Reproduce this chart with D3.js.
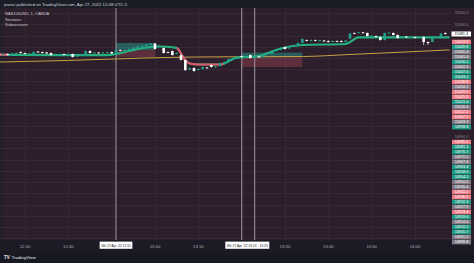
<!DOCTYPE html>
<html lang="en">
<head>
<meta charset="utf-8">
<title>NAS100USD, 1, OANDA</title>
<script src="https://d3js.org/d3.v7.min.js"></script>
<style>
  html, body { margin: 0; padding: 0; background: #161922; }
  svg { display: block; font-family: "Liberation Sans", "DejaVu Sans", sans-serif; }
</style>
</head>
<body>
<svg id="chart" width="474" height="263"></svg>
<script>
// one candle per minute, starting at 12:24
var startTime = "12:24";
var opens = [15063.6,15062.7,15063.6,15062.7,15063.6,15065.4,15064.5,15063.6,15062.7,15065.8,
  15065.4,15065.0,15064.5,15062.7,15063.2,15063.6,15062.7,15063.6,15061.4,15062.3,
  15061.8,15066.3,15064.1,15065.0,15064.1,15064.5,15065.4,15063.6,15067.2,15066.3,
  15067.2,15067.6,15068.9,15069.8,15070.7,15071.6,15072.9,15069.8,15068.9,15065.4,
  15066.3,15063.6,15062.7,15058.3,15049.9,15051.2,15049.4,15050.3,15051.7,15053.9,
  15051.7,15053.0,15054.7,15056.5,15058.3,15059.2,15061.8,15060.5,15062.7,15060.1,
  15061.4,15061.0,15063.6,15063.6,15066.3,15067.2,15069.8,15068.5,15069.8,15070.7,
  15073.4,15076.0,15075.2,15076.0,15075.2,15075.6,15075.2,15074.3,15075.2,15075.2,
  15074.3,15077.3,15082.3,15082.3,15082.9,15082.3,15079.2,15079.6,15078.7,15076.0,
  15081.8,15082.3,15080.5,15078.3,15079.2,15078.3,15078.7,15077.8,15078.7,15074.3,
  15074.3,15077.8,15078.7,15082.3];
var closes = [15062.7,15063.2,15062.9,15064.1,15064.5,15064.5,15063.8,15064.1,15065.4,15065.1,
  15064.5,15064.1,15062.7,15063.6,15063.6,15063.2,15063.6,15061.0,15062.7,15063.2,
  15066.3,15064.5,15065.0,15064.5,15065.0,15065.4,15064.1,15067.2,15066.5,15067.2,
  15068.1,15069.4,15070.3,15071.2,15072.0,15072.9,15068.1,15071.2,15064.5,15064.7,
  15062.7,15064.5,15058.3,15049.4,15051.2,15048.5,15050.3,15052.1,15051.2,15052.1,
  15052.5,15055.6,15056.5,15059.2,15060.1,15061.0,15061.0,15061.4,15060.1,15061.0,
  15060.7,15063.6,15064.5,15065.4,15067.2,15068.1,15068.1,15069.4,15071.6,15073.4,
  15076.9,15075.3,15076.0,15075.3,15075.9,15075.0,15074.3,15075.2,15074.5,15074.3,
  15075.6,15081.8,15081.6,15082.9,15082.3,15079.6,15080.0,15078.7,15076.0,15082.3,
  15082.7,15080.5,15077.8,15079.2,15078.5,15078.7,15078.0,15078.7,15074.3,15073.4,
  15077.8,15078.7,15081.8,15081.4];
var highs = [15064.0,15063.6,15064.1,15064.6,15065.0,15065.9,15064.9,15064.5,15065.9,15066.3,
  15065.8,15065.4,15065.0,15064.1,15064.0,15064.0,15064.1,15064.0,15063.2,15063.6,
  15066.8,15066.8,15065.4,15065.4,15065.4,15065.9,15065.8,15067.7,15067.6,15067.6,
  15068.5,15069.8,15070.7,15071.6,15072.5,15073.4,15073.4,15071.6,15069.4,15065.8,
  15066.8,15065.0,15063.2,15058.7,15051.7,15051.7,15050.8,15052.5,15052.1,15054.3,
  15053.0,15056.1,15057.0,15059.6,15060.5,15061.4,15062.3,15061.8,15063.2,15061.4,
  15061.8,15064.1,15065.0,15065.9,15067.6,15068.5,15070.3,15069.8,15072.0,15073.8,
  15077.4,15076.5,15076.5,15076.4,15076.3,15076.0,15075.6,15075.6,15075.6,15075.6,
  15076.0,15082.3,15082.7,15083.3,15083.3,15082.7,15080.5,15080.0,15079.2,15082.7,
  15083.1,15082.7,15080.9,15079.6,15079.6,15079.1,15079.1,15079.2,15079.2,15074.7,
  15078.3,15079.2,15082.3,15082.7];
var lows = [15062.2,15062.3,15062.5,15062.2,15063.2,15064.1,15063.4,15063.2,15062.2,15064.8,
  15064.1,15063.7,15062.2,15062.3,15062.8,15062.8,15062.3,15060.5,15061.0,15061.9,
  15061.4,15064.1,15063.7,15064.1,15063.7,15064.1,15063.7,15063.2,15066.1,15065.9,
  15066.8,15067.2,15068.5,15069.4,15070.3,15071.2,15067.6,15069.4,15064.1,15064.3,
  15062.3,15063.2,15057.8,15048.5,15049.4,15048.1,15049.0,15049.9,15050.8,15051.7,
  15051.2,15052.5,15054.3,15056.1,15057.9,15058.7,15060.5,15060.1,15059.6,15059.6,
  15060.3,15060.5,15063.2,15063.2,15065.9,15066.8,15067.6,15068.1,15069.4,15070.3,
  15072.9,15074.9,15074.8,15074.9,15074.8,15074.6,15073.9,15073.9,15074.1,15073.9,
  15073.9,15076.9,15081.2,15081.9,15081.9,15079.2,15078.7,15078.3,15075.6,15075.6,
  15081.4,15080.0,15077.4,15077.8,15078.1,15077.8,15077.6,15077.4,15071.6,15071.6,
  15073.9,15077.4,15078.3,15080.9];

// trend ribbon
var ribbonTimes = ["12:24","12:26","12:38","12:49","12:51","12:54","12:58","13:01","13:04","13:05","13:07","13:08","13:10","13:15","13:19","13:24","13:26","13:29","13:34","13:44","13:47","14:08"];
var ribbonValues = [15063.2,15062.8,15062.7,15062.7,15063.6,15066.3,15069.4,15070.3,15069.6,15068.9,15058.0,15055.2,15054.3,15054.3,15060.5,15061.8,15064.5,15068.5,15071.6,15072.5,15078.3,15078.3];
var ribbonBearStart = ["12:24","13:05"];
var ribbonBearEnd = ["12:26","13:16"];

// slow moving average
var maTimes = ["12:24","12:40","12:58","13:10","13:34","13:45","14:00","14:08"];
var maValues = [15056.5,15057.9,15060.1,15061.0,15061.4,15063.2,15065.8,15067.3];

// session boxes
var boxStart = ["12:51","13:20"];
var boxEnd = ["13:00","13:34"];
var boxHigh = [15073.4,15064.8];
var boxMid = [15067.2,15060.7];
var boxLow = [15061.0,15052.1];

var markerTimes = ["12:51","13:20","13:23"];
var markerDate = "We 27 Apr '22";

// stacked labels on the price scale
var sideLabelValues = [15074.3,15069.8,15065.4,15061.0,15056.5,15052.1,15047.6,15043.2,15038.8,15034.3,
  15029.9,15025.5,15021.0,15016.6,15012.2,15007.7,15003.3,14998.8,
  14985.5,14981.1,14976.7,14972.2,14967.8,14963.4,14958.9,14954.5,14950.0,14945.6,
  14941.2,14936.7,14932.3,14927.9,14923.4,14919.0,14914.6,14910.1,14905.7,14901.2,14896.8];
var sideLabelKinds = ["r","g","n","n","g","n","g","g","r","n",
  "r","r","g","n","r","r","n","g",
  "r","g","g","n","n","g","g","g","n","n",
  "r","r","g","n","r","g","n","g","g","n","n"];

var W = 474, H = 263;
var plotL = 0, plotR = 450, plotT = 8, plotB = 240;
var bg = "#2c1f2b";
var bull = "#22a08e", bear = "#ffffff";
var ribbonGreen = "#27b07f", ribbonRed = "#e0566a";
var kindColor = { r: "#ef7d86", g: "#1f9c86", n: "#7f7b86" };

var parse = d3.timeParse("%H:%M");
var t0 = parse(startTime);
var fmt = d3.format(".1f");

var x = d3.scaleTime().domain([parse("12:30"), parse("14:00")]).range([25, 415]);
var y = d3.scaleLinear().domain([15100, 14990]).range([13, 137]);

var svg = d3.select("#chart");
var defs = svg.append("defs");
defs.append("clipPath").attr("id", "plot").append("rect")
  .attr("x", plotL).attr("y", plotT).attr("width", plotR - plotL).attr("height", plotB - plotT);

// backgrounds
svg.append("rect").attr("width", W).attr("height", H).attr("fill", "#161922");
svg.append("rect").attr("x", 0).attr("y", plotT).attr("width", W).attr("height", plotB - plotT).attr("fill", bg);
svg.append("rect").attr("x", 0).attr("y", plotT).attr("width", 3).attr("height", plotB - plotT).attr("fill", "#22202d");
svg.append("rect").attr("x", 0).attr("y", 0).attr("width", W).attr("height", plotT).attr("fill", "#1a1d26");
svg.append("rect").attr("x", 0).attr("y", plotB).attr("width", W).attr("height", 12).attr("fill", "#1c1a24");

var plot = svg.append("g").attr("clip-path", "url(#plot)");

// grid
var timeTicks = d3.timeMinute.every(10).range(parse("12:20"), parse("14:10"));
var priceTicks = d3.range(14890, 15110, 10);
plot.selectAll(".vg").data(timeTicks).enter().append("line")
  .attr("x1", d => x(d) + 0.5).attr("x2", d => x(d) + 0.5)
  .attr("y1", plotT).attr("y2", plotB)
  .attr("stroke", "#372834").attr("stroke-width", 1);
plot.selectAll(".hg").data(priceTicks).enter().append("line")
  .attr("x1", plotL).attr("x2", plotR)
  .attr("y1", d => Math.round(y(d)) + 0.5).attr("y2", d => Math.round(y(d)) + 0.5)
  .attr("stroke", "#372834").attr("stroke-width", 1);

// session boxes
boxStart.forEach(function(s, i) {
  var x0 = x(parse(s)), x1 = x(parse(boxEnd[i]));
  plot.append("rect").attr("x", x0).attr("width", x1 - x0)
    .attr("y", y(boxHigh[i])).attr("height", y(boxMid[i]) - y(boxHigh[i]))
    .attr("fill", "#26a69a").attr("fill-opacity", 0.45);
  plot.append("rect").attr("x", x0).attr("width", x1 - x0)
    .attr("y", y(boxMid[i])).attr("height", y(boxLow[i]) - y(boxMid[i]))
    .attr("fill", "#ef5f6e").attr("fill-opacity", 0.25);
});

// vertical markers
plot.selectAll(".mk").data(markerTimes).enter().append("line")
  .attr("x1", d => x(parse(d))).attr("x2", d => x(parse(d)))
  .attr("y1", plotT).attr("y2", plotB)
  .attr("stroke", "#8f8592").attr("stroke-width", 1.2);

// slow MA
var ma = maTimes.map((t, i) => ({ t: parse(t), v: maValues[i] }));
plot.append("path").datum(ma)
  .attr("d", d3.line().x(d => x(d.t)).y(d => y(d.v)).curve(d3.curveMonotoneX))
  .attr("fill", "none").attr("stroke", "#c9a246").attr("stroke-width", 1);

// ribbon
var ribbon = ribbonTimes.map((t, i) => ({ t: parse(t), v: ribbonValues[i] }));
var ribbonLine = d3.line().x(d => x(d.t)).y(d => y(d.v)).curve(d3.curveMonotoneX);
plot.append("path").datum(ribbon).attr("d", ribbonLine)
  .attr("fill", "none").attr("stroke", ribbonGreen).attr("stroke-width", 2.2);
ribbonBearStart.forEach(function(s, i) {
  var a = x(parse(s)), b = x(parse(ribbonBearEnd[i]));
  defs.append("clipPath").attr("id", "bear" + i).append("rect")
    .attr("x", a).attr("width", b - a).attr("y", 0).attr("height", H);
  plot.append("g").attr("clip-path", "url(#bear" + i + ")")
    .append("path").datum(ribbon).attr("d", ribbonLine)
    .attr("fill", "none").attr("stroke", ribbonRed).attr("stroke-width", 2.2);
});

// candles
var candles = opens.map((o, i) => ({
  t: d3.timeMinute.offset(t0, i), o: o, c: closes[i], h: highs[i], l: lows[i]
}));
var cw = 2.6;
var cg = plot.selectAll(".candle").data(candles).enter().append("g");
cg.append("line")
  .attr("x1", d => x(d.t)).attr("x2", d => x(d.t))
  .attr("y1", d => y(d.h)).attr("y2", d => y(d.l))
  .attr("stroke", d => d.c >= d.o ? bull : bear).attr("stroke-width", 0.7);
cg.append("rect")
  .attr("x", d => x(d.t) - cw / 2).attr("width", cw)
  .attr("y", d => y(Math.max(d.o, d.c)))
  .attr("height", d => Math.max(0.9, Math.abs(y(d.o) - y(d.c))))
  .attr("fill", d => d.c >= d.o ? bull : bear);

// legend
var legend = svg.append("g").attr("font-size", 4).attr("fill", "#c9c7cf");
legend.append("text").attr("x", 5).attr("y", 15).text("NAS100USD, 1, OANDA");
legend.append("text").attr("x", 5).attr("y", 20.5).text("Sessions");
legend.append("text").attr("x", 5).attr("y", 26).text("Subsessions");

// header and footer
svg.append("text").attr("x", 4).attr("y", 5.5).attr("font-size", 4.3).attr("fill", "#d1d4dc")
  .text("jeanvi published on TradingView.com, Apr 27, 2022 12:48 UTC-5");
svg.append("text").attr("x", 4).attr("y", 259).attr("font-size", 4.6).attr("font-weight", "bold").attr("fill", "#e8e8ec")
  .text("TV");
svg.append("text").attr("x", 11.5).attr("y", 259).attr("font-size", 4.4).attr("fill", "#e8e8ec")
  .text("TradingView");

// price axis: plain ticks only where no stacked label covers them
var last = closes[closes.length - 1];
var covered = sideLabelValues.concat([last]);
var pa = svg.append("g").attr("font-size", 3.8).attr("text-anchor", "middle");
pa.selectAll(".pt")
  .data(priceTicks.filter(p => y(p) > plotT + 2 && y(p) < plotB &&
    covered.every(v => Math.abs(y(v) - y(p)) > 5)))
  .enter().append("text")
  .attr("x", 461.5).attr("y", d => y(d) + 1.3).attr("fill", "#8d8993").text(d => fmt(d));
var sl = pa.selectAll(".sl").data(sideLabelValues).enter().append("g");
sl.append("rect").attr("x", 452).attr("width", 19).attr("y", d => y(d) - 2.3).attr("height", 4.6)
  .attr("fill", (d, i) => kindColor[sideLabelKinds[i]]);
sl.append("text").attr("x", 461.5).attr("y", d => y(d) + 1.3).attr("fill", "#ffffff").text(d => fmt(d));
pa.append("rect").attr("x", 451.5).attr("width", 19.5).attr("y", y(last) - 2.5).attr("height", 5).attr("fill", "#ffffff");
pa.append("text").attr("x", 461.3).attr("y", y(last) + 1.3).attr("fill", "#131722").text(fmt(last));

// time axis
var fmtTime = d3.timeFormat("%H:%M");
var ta = svg.append("g").attr("font-size", 4.2).attr("text-anchor", "middle");
var markerX = markerTimes.map(t => x(parse(t)));
ta.selectAll(".tt")
  .data(timeTicks.filter(t => x(t) > 5 && x(t) < plotR - 5 &&
    markerX.every(m => Math.abs(m - x(t)) > 20)))
  .enter().append("text")
  .attr("x", d => x(d)).attr("y", 247.5).attr("fill", "#b2b0b8").text(d => fmtTime(d));

// marker labels on the time axis
var ml = svg.append("g").attr("font-size", 3.3).attr("fill", "#131722");
function markerLabel(cx, txt, extra) {
  var box = ml.append("rect").attr("y", 241.6).attr("height", 7.2).attr("fill", "#ffffff");
  var t1 = ml.append("text").attr("x", cx).attr("y", 246.6).attr("text-anchor", "middle").text(txt);
  var w = t1.node().getComputedTextLength();
  var left = cx - w / 2 - 1.5, right = cx + w / 2 + 1.5;
  if (extra) {
    var t2 = ml.append("text").attr("x", right + 1.5).attr("y", 246.6).text(extra);
    right = right + 1.5 + t2.node().getComputedTextLength() + 1.5;
  }
  box.attr("x", left).attr("width", right - left);
}
markerLabel(markerX[0], markerDate + "   " + markerTimes[0]);
markerLabel(markerX[1], markerDate + "   " + markerTimes[1], markerTimes[2]);
</script>
</body>
</html>
